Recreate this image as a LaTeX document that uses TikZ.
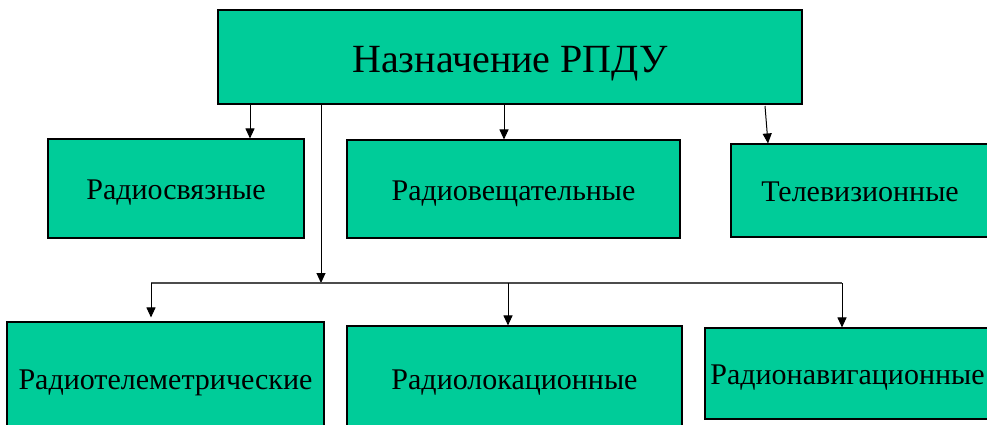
\documentclass[tikz,border=0pt]{standalone}
\usepackage{fontspec}
\setmainfont{Liberation Serif}
\usetikzlibrary{arrows.meta}
\definecolor{boxgreen}{RGB}{0,204,153}
\tikzset{
  box/.style={draw=black, line width=1.1pt, fill=boxgreen, rectangle, inner sep=0pt, align=center},
  bigtext/.style={font=\fontsize{40}{47}\selectfont, text height=39.2pt, text depth=8.8pt},
  smalltext/.style={font=\fontsize{30}{35}\selectfont, text height=29.4pt, text depth=6.6pt},
  arr/.style={draw=black, line width=1pt, -{Triangle[length=10pt,width=9pt]}},
  ln/.style={draw=black!70, line width=1.6pt}
}
\begin{document}
\begin{tikzpicture}[x=1pt,y=-1pt]
\useasboundingbox (0,0) rectangle (987,425);
% top box
\node[box, bigtext, minimum width=584pt, minimum height=94pt] (top) at (510,57) {Назначение РПДУ};
% second row
\node[box, smalltext, minimum width=256pt, minimum height=99pt] (rs) at (176,188.5) {Радиосвязные};
\node[box, smalltext, minimum width=333pt, minimum height=98pt] (rv) at (513.5,189) {Радиовещательные};
\node[box, smalltext, minimum width=258pt, minimum height=93pt] (tv) at (860,190.5) {Телевизионные};
% third row
\node[box, smalltext, minimum width=317pt, minimum height=112pt] (rt) at (165.5,378) {Радиотелеметрические};
\node[box, smalltext, minimum width=335pt, minimum height=104pt] (rl) at (514.5,378) {Радиолокационные};
\node[box, smalltext, minimum width=285pt, minimum height=91pt] (rn) at (847.5,373.5) {Радионавигационные};
% connector coordinates
\coordinate (hub) at (321,283);
\coordinate (hl) at (151,283);
\coordinate (hr) at (842,283);
\coordinate (hm) at (508,283);
% arrows from top box
\draw[arr] (top.south -| 250,0) -- (rs.north -| 250,0);
\draw[arr] (top.south -| 504,0) -- (rv.north -| 504,0);
\draw[arr] (765,106) -- (tv.north -| 768,0);
\draw[arr] (top.south -| hub) -- (hub);
% horizontal distribution line
\draw[ln] (hl) -- (hr);
\draw[arr] (hl) -- ([yshift=4pt]rt.north -| hl);
\draw[arr] (hm) -- (rl.north -| hm);
\draw[arr] (hr) -- (rn.north -| hr);
\end{tikzpicture}
\end{document}
